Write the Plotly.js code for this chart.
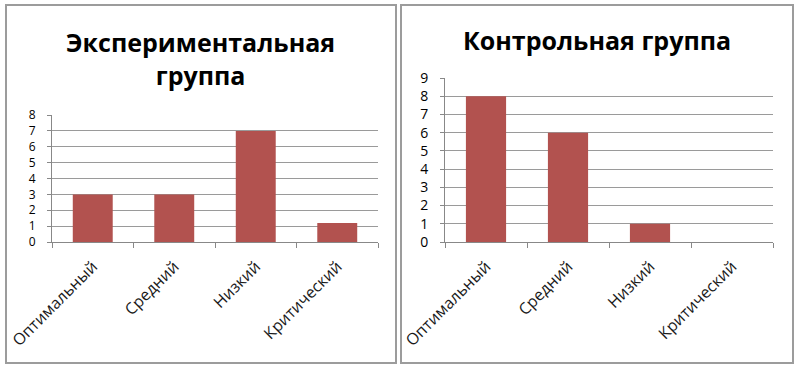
<!DOCTYPE html>
<html>
<head>
<meta charset="utf-8">
<script src="https://cdn.plot.ly/plotly-3.0.1.min.js"></script>
<style>html,body{margin:0;padding:0;background:#fff;}#chart{width:800px;height:372px;}</style>
</head>
<body>
<div id="chart"></div>
<script>
const categories = ["Оптимальный", "Средний", "Низкий", "Критический"];
const expValues = [3, 3, 7, 1.2];
const ctrlValues = [8, 6, 1, 0];
const expTitle = "Экспериментальная<br>группа";
const ctrlTitle = "Контрольная группа";
const expTicks = [0, 1, 2, 3, 4, 5, 6, 7, 8];
const ctrlTicks = [0, 1, 2, 3, 4, 5, 6, 7, 8, 9];

const W = 800, H = 372;
const px = v => v / W;
const py = v => 1 - v / H;
const barColor = "#B2524F";
const fontFam = "'Open Sans', 'Noto Sans', sans-serif";

const traces = [
  {type: "bar", x: categories, y: expValues, xaxis: "x", yaxis: "y",
   marker: {color: barColor}, width: 0.49, hoverinfo: "none"},
  {type: "bar", x: categories, y: ctrlValues, xaxis: "x2", yaxis: "y2",
   marker: {color: barColor}, width: 0.49, hoverinfo: "none"}
];

function xax(domain, anchor) {
  return {domain: domain, anchor: anchor, type: "category", tickangle: -45,
    showline: true, linecolor: "#888", linewidth: 1, ticks: "outside", ticklen: 5,
    tickcolor: "#888", tickson: "boundaries", showgrid: false, ticklabelstandoff: 8,
    tickfont: {family: fontFam, size: 16, color: "#1a1a1a"}, fixedrange: true};
}
function yax(domain, anchor, maxV, tv, fs) {
  return {domain: domain, anchor: anchor, range: [0, maxV], tickvals: tv,
    showline: true, linecolor: "#888", linewidth: 1, ticks: "outside", ticklen: 4,
    tickcolor: "#888", showgrid: true, gridcolor: "#9a9a9a", gridwidth: 1,
    zeroline: false, ticklabelstandoff: 9,
    tickfont: {family: fontFam, size: fs, color: "#000"}, fixedrange: true};
}

const layout = {
  width: W, height: H, margin: {l: 0, r: 0, t: 0, b: 0},
  paper_bgcolor: "#fff", plot_bgcolor: "rgba(0,0,0,0)",
  showlegend: false, bargap: 0.5,
  xaxis: xax([px(52), px(378)], "y"),
  yaxis: yax([py(242), py(115)], "x", 8, expTicks, 12),
  xaxis2: xax([px(445), px(773)], "y2"),
  yaxis2: yax([py(242), py(78)], "x2", 9, ctrlTicks, 14),
  shapes: [
    {type: "rect", xref: "paper", yref: "paper", x0: px(6), x1: px(396), y0: py(363), y1: py(5),
     line: {color: "#9c9c9c", width: 2}},
    {type: "rect", xref: "paper", yref: "paper", x0: px(401), x1: px(793), y0: py(363), y1: py(5),
     line: {color: "#9c9c9c", width: 2}}
  ],
  annotations: [
    {text: "<b>" + expTitle + "</b>", xref: "paper", yref: "paper", x: px(201), y: py(59),
     xanchor: "center", yanchor: "middle", showarrow: false,
     font: {family: fontFam, size: 25, color: "#000"}},
    {text: "<b>" + ctrlTitle + "</b>", xref: "paper", yref: "paper", x: px(597), y: py(40),
     xanchor: "center", yanchor: "middle", showarrow: false,
     font: {family: fontFam, size: 25, color: "#000"}}
  ]
};

Plotly.newPlot("chart", traces, layout, {displayModeBar: false, staticPlot: true});
</script>
</body>
</html>
